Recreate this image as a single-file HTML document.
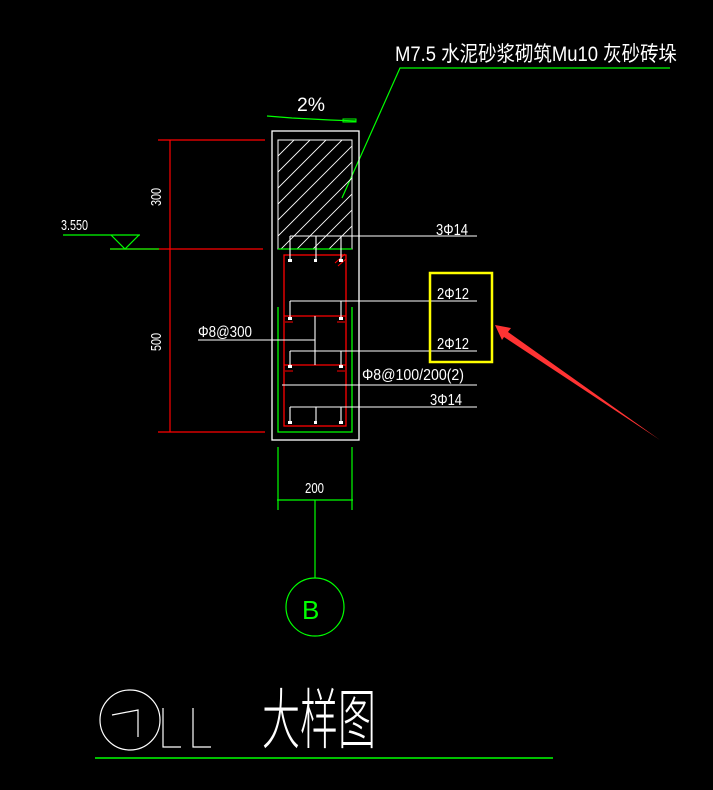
<!DOCTYPE html>
<html><head><meta charset="utf-8"><style>
html,body{margin:0;padding:0;background:#000;}
svg{display:block}
text{font-family:"Liberation Sans","Noto Sans CJK SC",sans-serif;fill:#fff}
</style></head><body>
<svg width="713" height="790" viewBox="0 0 713 790" xmlns="http://www.w3.org/2000/svg">
<rect width="713" height="790" fill="#000"/>
<defs><clipPath id="hc"><rect x="278" y="140" width="74" height="109"/></clipPath></defs>
<!-- top label -->
<text x="395" y="61" font-size="21" textLength="282" lengthAdjust="spacingAndGlyphs">M7.5  水泥砂浆砌筑Mu10  灰砂砖垛</text>
<polyline points="342,198 400,68 670,68" fill="none" stroke="#0f0" stroke-width="1.2"/>
<!-- 2% -->
<text x="297" y="111" font-size="19" textLength="28" lengthAdjust="spacingAndGlyphs">2%</text>
<polyline points="267,116 292,118 330,120 356,121" fill="none" stroke="#0f0" stroke-width="1.2"/>
<rect x="343" y="119" width="13" height="3" fill="none" stroke="#0f0" stroke-width="1"/>
<!-- outer -->
<rect x="272" y="131" width="87" height="309" fill="none" stroke="#fff" stroke-width="1.3"/>
<rect x="278" y="140" width="74" height="109" fill="none" stroke="#fff" stroke-width="1"/>
<g clip-path="url(#hc)" stroke="#fff" stroke-width="0.9">
<line x1="278" y1="156" x2="294" y2="140"/><line x1="278" y1="172" x2="310" y2="140"/><line x1="278" y1="188" x2="326" y2="140"/><line x1="278" y1="204" x2="342" y2="140"/><line x1="278" y1="220" x2="358" y2="140"/><line x1="278" y1="236" x2="374" y2="140"/><line x1="278" y1="252" x2="390" y2="140"/><line x1="278" y1="268" x2="406" y2="140"/><line x1="278" y1="284" x2="422" y2="140"/><line x1="278" y1="300" x2="438" y2="140"/>
</g>
<line x1="278" y1="249" x2="352" y2="249" stroke="#0f0" stroke-width="1.2"/>
<polyline points="278,307 278,432 352,432 352,307" fill="none" stroke="#0f0" stroke-width="1.3"/>
<rect x="284" y="255" width="62" height="171" fill="none" stroke="#f00" stroke-width="1.3"/>
<line x1="284" y1="316" x2="346" y2="316" stroke="#f00" stroke-width="1.3"/>
<line x1="284" y1="365" x2="346" y2="365" stroke="#f00" stroke-width="1.3"/>
<g stroke="#f00" stroke-width="1"><line x1="335" y1="263" x2="345" y2="254"/><line x1="338" y1="266" x2="346" y2="259"/>
<line x1="285" y1="322" x2="293" y2="322"/><line x1="337" y1="322" x2="345" y2="322"/><line x1="285" y1="371" x2="293" y2="371"/><line x1="337" y1="371" x2="345" y2="371"/></g>
<!-- white rebar lines -->
<g stroke="#fff" stroke-width="1.1" fill="none">
<line x1="290" y1="236" x2="477" y2="236"/><line x1="290" y1="236" x2="290" y2="260"/><line x1="316" y1="236" x2="316" y2="260"/><line x1="341" y1="236" x2="341" y2="260"/>
<line x1="290" y1="301" x2="477" y2="301"/><line x1="290" y1="301" x2="290" y2="318"/><line x1="341" y1="301" x2="341" y2="318"/>
<line x1="290" y1="351" x2="477" y2="351"/><line x1="290" y1="351" x2="290" y2="366"/><line x1="341" y1="351" x2="341" y2="366"/>
<line x1="282" y1="385" x2="477" y2="385"/>
<line x1="290" y1="407" x2="477" y2="407"/><line x1="290" y1="407" x2="290" y2="422"/><line x1="316" y1="407" x2="316" y2="422"/><line x1="341" y1="407" x2="341" y2="422"/>
<line x1="315" y1="316" x2="315" y2="365"/><line x1="198" y1="340" x2="315" y2="340"/>
</g>
<g fill="#fff"><rect x="288" y="259" width="4" height="3"/><rect x="314" y="259" width="3" height="3"/><rect x="339" y="259" width="4" height="3"/>
<rect x="288" y="317" width="4" height="3"/><rect x="339" y="317" width="4" height="3"/><rect x="288" y="365" width="4" height="3"/><rect x="339" y="365" width="4" height="3"/>
<rect x="288" y="421" width="4" height="3"/><rect x="314" y="421" width="3" height="3"/><rect x="339" y="421" width="4" height="3"/></g>
<g fill="#fff" font-size="16">
<text x="436" y="235" textLength="32" lengthAdjust="spacingAndGlyphs">3Φ14</text>
<text x="437" y="299" textLength="32" lengthAdjust="spacingAndGlyphs">2Φ12</text>
<text x="437" y="349" textLength="32" lengthAdjust="spacingAndGlyphs">2Φ12</text>
<text x="362" y="380" textLength="102" lengthAdjust="spacingAndGlyphs">Φ8@100/200(2)</text>
<text x="430" y="405" textLength="32" lengthAdjust="spacingAndGlyphs">3Φ14</text>
<text x="198" y="337" textLength="54" lengthAdjust="spacingAndGlyphs">Φ8@300</text>
</g>
<rect x="430" y="273" width="62" height="89" fill="none" stroke="#ff0" stroke-width="2.5"/>
<!-- red arrow -->
<polygon points="495,325 511,328 508,332 660,440 504,337 502,340" fill="#f33"/>
<!-- dims -->
<g stroke="#f00" stroke-width="1.2"><line x1="170" y1="140" x2="170" y2="432"/><line x1="158" y1="140" x2="265" y2="140"/><line x1="110" y1="249" x2="263" y2="249"/><line x1="158" y1="432" x2="265" y2="432"/></g>
<line x1="110" y1="249" x2="159" y2="249" stroke="#0f0" stroke-width="1.2"/>
<text transform="translate(161,206) rotate(-90)" font-size="15" textLength="18" lengthAdjust="spacingAndGlyphs">300</text>
<text transform="translate(161,351) rotate(-90)" font-size="15" textLength="18" lengthAdjust="spacingAndGlyphs">500</text>
<line x1="63" y1="235" x2="140" y2="235" stroke="#0f0" stroke-width="1.2"/>
<polyline points="111,235 125,249 139,235" fill="none" stroke="#0f0" stroke-width="1.2"/>
<text x="61" y="230" font-size="15" textLength="27" lengthAdjust="spacingAndGlyphs">3.550</text>
<!-- bottom dim -->
<g stroke="#0f0" stroke-width="1.2"><line x1="278" y1="447" x2="278" y2="510"/><line x1="352" y1="447" x2="352" y2="510"/><line x1="277" y1="500" x2="353" y2="500"/><line x1="315" y1="500" x2="315" y2="578"/></g>
<text x="305" y="493" font-size="15" textLength="19" lengthAdjust="spacingAndGlyphs">200</text>
<circle cx="315" cy="607" r="29" fill="none" stroke="#0f0" stroke-width="1.2"/>
<text x="302" y="619" font-size="26" style="fill:#0f0">B</text>
<!-- title -->
<circle cx="130" cy="720" r="30" fill="none" stroke="#fff" stroke-width="1.2"/>
<polyline points="112,715 138,710 138,737" fill="none" stroke="#fff" stroke-width="1.2"/>
<polyline points="163,708 163,747 181,747" fill="none" stroke="#fff" stroke-width="1.2"/>
<polyline points="193,708 193,747 211,747" fill="none" stroke="#fff" stroke-width="1.2"/>
<text x="262" y="743" font-size="66" textLength="114" lengthAdjust="spacingAndGlyphs" style="font-weight:200">大样图</text>
<line x1="95" y1="758" x2="553" y2="758" stroke="#0f0" stroke-width="1.5"/>
</svg>
</body></html>
